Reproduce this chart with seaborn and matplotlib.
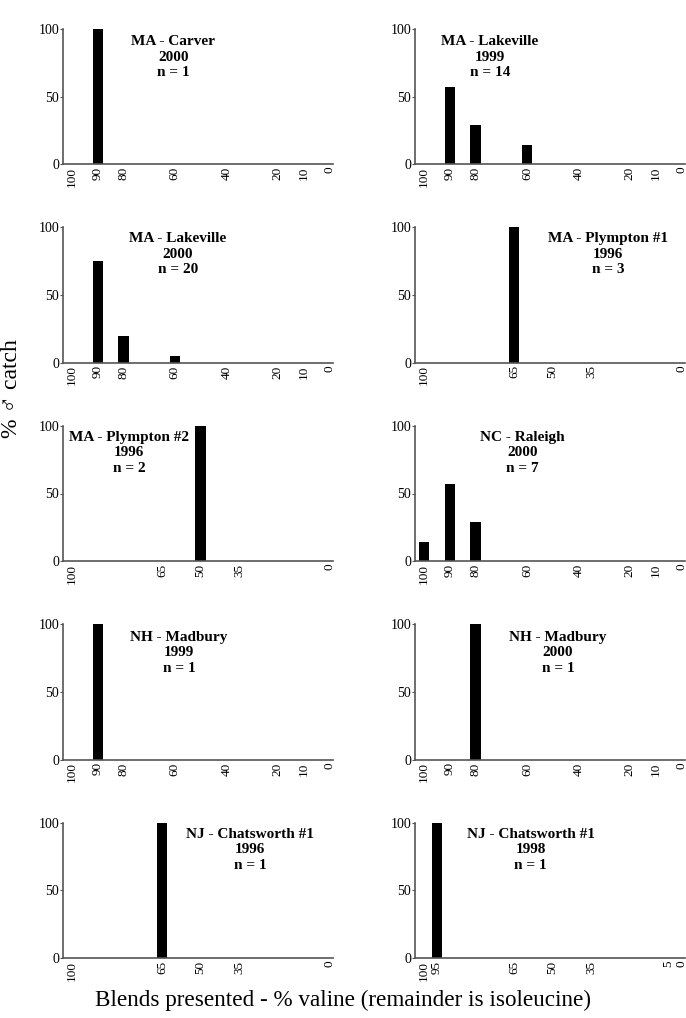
import matplotlib
matplotlib.use("Agg")
import matplotlib.pyplot as plt
import seaborn as sns
import pandas as pd

# ---- data ----
blends_a = [100, 90, 80, 60, 40, 20, 10, 0]
blends_b = [100, 65, 50, 35, 0]
blends_c = [100, 95, 65, 50, 35, 5, 0]

titles = [
    "MA - Carver\n2000\nn = 1",
    "MA - Lakeville\n1999\nn = 14",
    "MA - Lakeville\n2000\nn = 20",
    "MA - Plympton #1\n1996\nn = 3",
    "MA - Plympton #2\n1996\nn = 2",
    "NC - Raleigh\n2000\nn = 7",
    "NH - Madbury\n1999\nn = 1",
    "NH - Madbury\n2000\nn = 1",
    "NJ - Chatsworth #1\n1996\nn = 1",
    "NJ - Chatsworth #1\n1998\nn = 1",
]

carver_2000 = [0, 100, 0, 0, 0, 0, 0, 0]
lakeville_1999 = [0, 57.1, 28.6, 14.3, 0, 0, 0, 0]
lakeville_2000 = [0, 75, 20, 5, 0, 0, 0, 0]
plympton1_1996 = [0, 100, 0, 0, 0]
plympton2_1996 = [0, 0, 100, 0, 0]
raleigh_2000 = [14.3, 57.1, 28.6, 0, 0, 0, 0, 0]
madbury_1999 = [0, 100, 0, 0, 0, 0, 0, 0]
madbury_2000 = [0, 0, 100, 0, 0, 0, 0, 0]
chatsworth_1996 = [0, 100, 0, 0, 0]
chatsworth_1998 = [0, 100, 0, 0, 0, 0, 0]

panel_blends = [blends_a, blends_a, blends_a, blends_b, blends_b,
                blends_a, blends_a, blends_a, blends_b, blends_c]
panel_values = [carver_2000, lakeville_1999, lakeville_2000, plympton1_1996,
                plympton2_1996, raleigh_2000, madbury_1999, madbury_2000,
                chatsworth_1996, chatsworth_1998]

# title placement (axes fraction) per panel
title_pos = [(0.408, 0.955), (0.278, 0.955), (0.426, 0.963), (0.715, 0.963),
             (0.244, 0.963), (0.398, 0.963), (0.43, 0.955), (0.53, 0.955),
             (0.693, 0.963), (0.428, 0.963)]

# ---- style ----
sns.set_style("ticks")
plt.rcParams["font.family"] = ["Liberation Serif", "DejaVu Sans"]
plt.rcParams.update({"text.color": "black", "xtick.color": "black",
                     "ytick.color": "black", "axes.labelcolor": "black"})
spine_col = "#555555"

fig, axes = plt.subplots(5, 2, figsize=(6.86, 10.18), dpi=100)
fig.subplots_adjust(left=63 / 686, right=685 / 686, top=1 - 29 / 1018,
                    bottom=1 - 958 / 1018, wspace=0.304, hspace=0.47)

bar_units = 4.0
for i, ax in enumerate(axes.flat):
    bl = panel_blends[i]
    vals = panel_values[i]
    df = pd.DataFrame({"blend": bl, "catch": vals})
    spacing = min(abs(a - b) for a, b in zip(sorted(bl)[1:], sorted(bl)[:-1]))
    sns.barplot(data=df, x="blend", y="catch", native_scale=True,
                width=bar_units / spacing, color="black", saturation=1,
                linewidth=0, errorbar=None, ax=ax)
    ax.set_xlim(103.5, -1.5)
    ax.set_ylim(0, 100)
    ax.set_xticks(bl)
    ax.set_xticklabels([str(b) for b in bl], rotation=90, fontsize=9.5)
    ax.set_yticks([0, 50, 100])
    ax.set_yticklabels(["0", "50", "100"], fontsize=10)
    ax.tick_params(axis="x", length=0, pad=2)
    ax.tick_params(axis="y", length=2.5, width=0.8, pad=0.3, color=spine_col)
    ax.set_xlabel("")
    ax.set_ylabel("")
    for s in ["top", "right"]:
        ax.spines[s].set_visible(False)
    for s in ["left", "bottom"]:
        ax.spines[s].set_color(spine_col)
        ax.spines[s].set_linewidth(1.2)
    tx, ty = title_pos[i]
    ax.text(tx, ty, titles[i], transform=ax.transAxes, ha="center", va="top",
            fontsize=11, fontweight="bold", linespacing=1.25,
            multialignment="center")

fig.text(12 / 686, 1 - 389 / 1018, "% \u2642 catch", rotation=90,
         ha="center", va="center", fontsize=17)
fig.text(0.5, 1 - 1000 / 1018,
         "Blends presented - % valine (remainder is isoleucine)",
         ha="center", va="center", fontsize=16.7)

fig.savefig("out.png", dpi=100)
